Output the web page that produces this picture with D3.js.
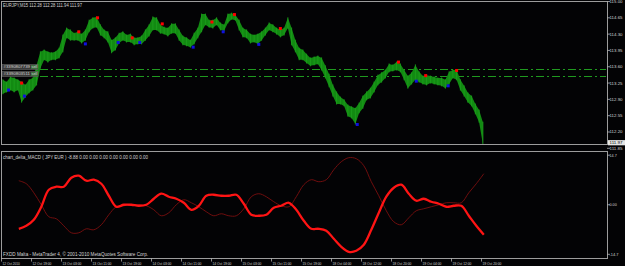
<!DOCTYPE html>
<html><head><meta charset="utf-8">
<script src="https://cdn.jsdelivr.net/npm/d3@7"></script>
<style>html,body{margin:0;padding:0;background:#000;overflow:hidden}svg{display:block}</style>
</head><body><svg id="c" width="625" height="266"></svg>
<script>
// ---------- data ----------
const headerText = "EURJPY,M15  112.28 112.28 111.94 111.97";
const macdHeader = "chart_delta_MACD ( JPY  EUR  ) -8.88 0.00 0.00 0.00 0.00 0.00 0.00 0.00";
const copyright = "FXDD Malta - MetaTrader 4, \u00A9 2001-2010 MetaQuotes Software Corp.";
const timeLabels = ["12 Oct 2010","12 Oct 19:00","13 Oct 03:00","13 Oct 11:00","13 Oct 19:00",
  "14 Oct 03:00","14 Oct 11:00","14 Oct 19:00","15 Oct 03:00","15 Oct 11:00","15 Oct 19:00",
  "18 Oct 04:00","18 Oct 12:00","18 Oct 20:00","19 Oct 04:00","19 Oct 12:00","19 Oct 20:00"];
const timeLabelBars = [0,32,64,96,128,160,192,224,256,288,320,352,384,416,448,480,512];
const priceTicks = [115.00,114.65,114.30,113.95,113.60,113.25,112.90,112.55,112.20];
const priceTickLabels = ["115.00","114.65","114.30","113.95","113.60","113.25","112.90","112.55","112.20"];
const lastPrice = 111.97;
const minPrice = 111.85;
const macdTicks = [14.7, 0, -14.7];
const macdTickLabels = ["14.7","0.00","-14.7"];

// hourly high / low (each block = 4 M15 bars)
const hourHigh = [113.32,113.27,113.38,113.36,113.32,113.27,113.21,113.32,113.36,113.64,
113.92,113.96,113.92,113.90,113.92,114.00,114.28,114.43,114.39,114.32,
114.35,114.30,114.39,114.60,114.65,114.67,114.50,114.39,114.35,114.17,
114.22,114.32,114.35,114.28,114.30,114.22,114.22,114.26,114.39,114.50,
114.67,114.65,114.50,114.45,114.43,114.52,114.52,114.39,114.26,114.22,
114.17,114.32,114.43,114.73,114.73,114.60,114.60,114.65,114.54,114.50,
114.73,114.75,114.71,114.60,114.43,114.39,114.30,114.28,114.30,114.35,
114.43,114.54,114.50,114.43,114.39,114.43,114.65,114.43,114.17,114.00,
113.96,113.87,113.79,113.81,113.83,113.79,113.62,113.44,113.21,113.06,
112.95,112.89,112.78,112.74,112.71,112.82,112.97,113.06,113.14,113.27,
113.42,113.47,113.53,113.66,113.64,113.70,113.66,113.53,113.40,113.47,
113.64,113.49,113.40,113.42,113.40,113.38,113.36,113.36,113.32,113.49,
113.53,113.53,113.32,113.19,113.04,112.97,112.80,112.67,112.41];
const hourLow = [113.02,113.06,113.10,113.06,113.10,112.84,112.95,113.04,113.10,113.21,
113.57,113.75,113.70,113.75,113.75,113.79,113.92,114.22,114.17,114.17,
114.17,114.11,114.17,114.35,114.43,114.45,114.28,114.22,114.13,113.90,
113.96,114.11,114.17,114.13,114.13,114.07,114.09,114.09,114.17,114.26,
114.39,114.39,114.32,114.30,114.26,114.32,114.32,114.17,114.07,114.05,
114.02,114.09,114.22,114.35,114.50,114.45,114.43,114.50,114.39,114.37,
114.54,114.62,114.60,114.39,114.24,114.22,114.11,114.13,114.09,114.17,
114.28,114.39,114.35,114.30,114.24,114.28,114.43,114.07,113.92,113.75,
113.75,113.68,113.62,113.64,113.66,113.53,113.36,113.17,112.97,112.80,
112.80,112.76,112.54,112.50,112.37,112.61,112.71,112.89,112.93,113.06,
113.21,113.27,113.36,113.49,113.51,113.53,113.49,113.32,113.14,113.23,
113.32,113.27,113.23,113.21,113.25,113.23,113.21,113.19,113.14,113.23,
113.36,113.32,113.10,112.97,112.84,112.76,112.59,112.41,111.94];

// fractal markers
const upFractalBar   = [22,83,103,140,172,225,249,298,424,453,486];
const upFractalPrice = [113.25,114.35,114.65,114.22,114.52,114.56,114.72,114.42,113.70,113.41,113.52];
const dnFractalBar   = [8,25,90,125,148,205,237,275,380,443,477];
const dnFractalPrice = [113.10,112.97,114.09,114.12,114.12,114.02,114.35,114.08,112.36,113.29,113.19];

// open orders
const orderIds = ["#3390807739","#3390803511"];
const orderPrices = [113.545, 113.40];

// indicator (one point every 8 bars, starting at bar 19)
const macdStartBar = 19, macdStep = 8;
const lineThick = [-7.13,-6.24,-4.46,-0.59,4.46,5.35,5.35,8.02,8.61,7.13,
7.43,6.24,2.67,-0.59,0.00,0.00,-0.30,0.00,1.78,3.27,
2.38,1.78,0.59,-1.49,-0.30,2.67,2.97,2.67,2.67,2.97,
0.30,-2.97,-3.27,-2.97,-0.89,-0.30,0.59,-1.49,-4.75,-7.13,
-7.13,-7.72,-10.10,-12.47,-13.96,-13.66,-11.88,-7.43,-2.38,2.38,
5.05,5.94,3.27,1.19,1.78,0.89,0.30,-0.59,-0.30,-0.30,
-3.27,-6.24,-8.88];
const lineThin = [7.13,6.24,3.56,0.00,-3.56,-4.16,-6.24,-8.32,-8.32,-7.13,
-7.43,-5.94,-2.97,-0.59,-0.30,0.00,0.00,-0.30,-1.49,-3.27,
-2.38,0.00,1.49,0.59,-0.59,-2.08,-3.27,-2.67,-3.27,-3.27,
-1.19,2.38,3.27,2.38,0.89,-0.30,-0.59,2.38,5.94,7.43,
6.83,7.43,10.40,12.77,13.96,13.66,11.58,6.83,2.67,-1.78,
-5.05,-5.94,-3.86,-1.78,-1.19,-0.59,0.00,0.59,0.59,0.59,
3.56,6.24,9.21];

// ---------- drawing ----------
const W = 625, H = 266;
const FONT = "'Liberation Sans', Arial, sans-serif";
const TXT = "#d4d4d4";
const svg = d3.select("#c");
svg.append("rect").attr("width", W).attr("height", H).attr("fill", "#030305");

const x = d3.scaleLinear().domain([0, 515]).range([1, 483.8]);
const yP = d3.scaleLinear().domain([111.85, 115.00]).range([148.3, 1.5]);
const yM = d3.scaleLinear().domain([-14.7, 14.7]).range([254.3, 155.2]);

const defs = svg.append("defs");
defs.append("clipPath").attr("id", "mainClip").append("rect")
  .attr("x", 2).attr("y", 2).attr("width", 605).attr("height", 142);
defs.append("clipPath").attr("id", "subClip").append("rect")
  .attr("x", 2).attr("y", 152).attr("width", 605).attr("height", 106);

function txt(g, s, tx, ty, opts = {}) {
  const t = g.append("text").attr("x", tx).attr("y", ty).text(s)
    .attr("font-family", FONT).attr("font-size", opts.size || 4.6)
    .attr("fill", opts.fill || TXT);
  if (opts.len) t.attr("textLength", opts.len).attr("lengthAdjust", "spacingAndGlyphs");
  if (opts.anchor) t.attr("text-anchor", opts.anchor);
  if (opts.baseline) t.attr("dominant-baseline", opts.baseline);
  return t;
}

// main window
const main = svg.append("g").attr("clip-path", "url(#mainClip)");

// order lines
orderPrices.forEach((p, i) => {
  main.append("line").attr("x1", 40).attr("x2", 606)
    .attr("y1", Math.round(yP(p)) + 0.5).attr("y2", Math.round(yP(p)) + 0.5)
    .attr("stroke", "#1f9a1f").attr("stroke-width", 1).attr("stroke-dasharray", "8,3,2,3");
});

// price band: area between hourly highs and lows, plus per-hour range lines
const cx = j => x(4 * j + 2);
const band = d3.area()
  .x((d, j) => cx(j))
  .y0((d, j) => yP(hourLow[j]))
  .y1(d => yP(d));
main.append("path").attr("d", band(hourHigh)).attr("fill", "#128a12");
main.append("g").selectAll("line").data(hourHigh).join("line")
  .attr("x1", (d, j) => cx(j)).attr("x2", (d, j) => cx(j))
  .attr("y1", d => yP(d) - 0.5).attr("y2", (d, j) => yP(hourLow[j]) + 0.5)
  .attr("stroke", "#1c9e1c").attr("stroke-width", 0.9);

// fractals
main.append("g").selectAll("rect").data(upFractalBar).join("rect")
  .attr("x", (d) => x(d) - 1.5).attr("y", (d, i) => yP(upFractalPrice[i]) - 1.5)
  .attr("width", 3).attr("height", 3).attr("fill", "#ff0000");
main.append("g").selectAll("rect").data(dnFractalBar).join("rect")
  .attr("x", (d) => x(d) - 1.5).attr("y", (d, i) => yP(dnFractalPrice[i]) - 1.5)
  .attr("width", 3).attr("height", 3).attr("fill", "#1010e0");

// order labels
orderPrices.forEach((p, i) => {
  const yy = Math.round(yP(p));
  const g = svg.append("g");
  g.append("rect").attr("x", 2).attr("y", yy - 4.5).attr("width", 36).attr("height", 5)
    .attr("fill", "#3a3a3a").attr("stroke", "#707070").attr("stroke-width", 0.5);
  g.append("rect").attr("x", 31).attr("y", yy - 4).attr("width", 6.5).attr("height", 4)
    .attr("fill", "#3f6f3f");
  txt(g, orderIds[i], 3.5, yy - 0.6, {size: 4.3, len: 26.5});
  txt(g, "sell", 31.5, yy - 0.6, {size: 4.3, len: 5.8});
});

// header
txt(svg, headerText, 3, 7.3, {size: 4.8, len: 79});

// frames
const frame = svg.append("g").attr("fill", "none").attr("stroke", "#9c9c9c").attr("stroke-width", 1);
frame.append("rect").attr("x", 1.5).attr("y", 1.5).attr("width", 606).attr("height", 143);
frame.append("rect").attr("x", 1.5).attr("y", 151.5).attr("width", 606).attr("height", 107);

// price axis
const pax = svg.append("g");
priceTicks.forEach((p, i) => {
  const yy = yP(p);
  pax.append("line").attr("x1", 607).attr("x2", 610).attr("y1", yy).attr("y2", yy)
    .attr("stroke", "#b0b0b0").attr("stroke-width", 0.8);
  txt(pax, priceTickLabels[i], 609.5, yy, {size: 4.4, len: 13, baseline: "central"});
});
pax.append("line").attr("x1", 607).attr("x2", 610).attr("y1", yP(minPrice)).attr("y2", yP(minPrice))
  .attr("stroke", "#b0b0b0").attr("stroke-width", 0.8);
txt(pax, minPrice.toFixed(2), 609.5, yP(minPrice), {size: 4.4, len: 13, baseline: "central"});
pax.append("rect").attr("x", 608).attr("y", yP(lastPrice) - 2.6).attr("width", 17).attr("height", 5.2)
  .attr("fill", "#e6e6e6");
txt(pax, lastPrice.toFixed(2), 609.5, yP(lastPrice), {size: 4.4, len: 13, baseline: "central", fill: "#000"});

// sub window
const sub = svg.append("g").attr("clip-path", "url(#subClip)");
const line = arr => d3.line()
  .x((d, i) => x(macdStartBar + macdStep * i))
  .y(d => yM(d))
  .curve(d3.curveCatmullRom)(arr);
sub.append("path").attr("d", line(lineThin)).attr("fill", "none")
  .attr("stroke", "#7a0f0f").attr("stroke-width", 0.9);
sub.append("path").attr("d", line(lineThick)).attr("fill", "none")
  .attr("stroke", "#ff1414").attr("stroke-width", 2.3).attr("stroke-linejoin", "round");

txt(svg, macdHeader, 3, 158.8, {size: 4.6, len: 145});
txt(svg, copyright, 3, 256, {size: 4.6, len: 145});

const max = svg.append("g");
macdTicks.forEach((v, i) => {
  const yy = yM(v);
  max.append("line").attr("x1", 607).attr("x2", 610).attr("y1", yy).attr("y2", yy)
    .attr("stroke", "#b0b0b0").attr("stroke-width", 0.8);
  txt(max, macdTickLabels[i], 609.5, yy, {size: 4.4, len: macdTickLabels[i].length * 1.8, baseline: "central"});
});

// time axis
const tax = svg.append("g");
timeLabels.forEach((s, i) => {
  const xx = Math.round(x(timeLabelBars[i])) + 0.5;
  tax.append("line").attr("x1", xx).attr("x2", xx).attr("y1", 258).attr("y2", 261.5)
    .attr("stroke", "#b0b0b0").attr("stroke-width", 0.8);
  txt(tax, s, xx + 1, 264.5, {size: 4.4, len: s.length * 1.58});
});
</script>
</body></html>
